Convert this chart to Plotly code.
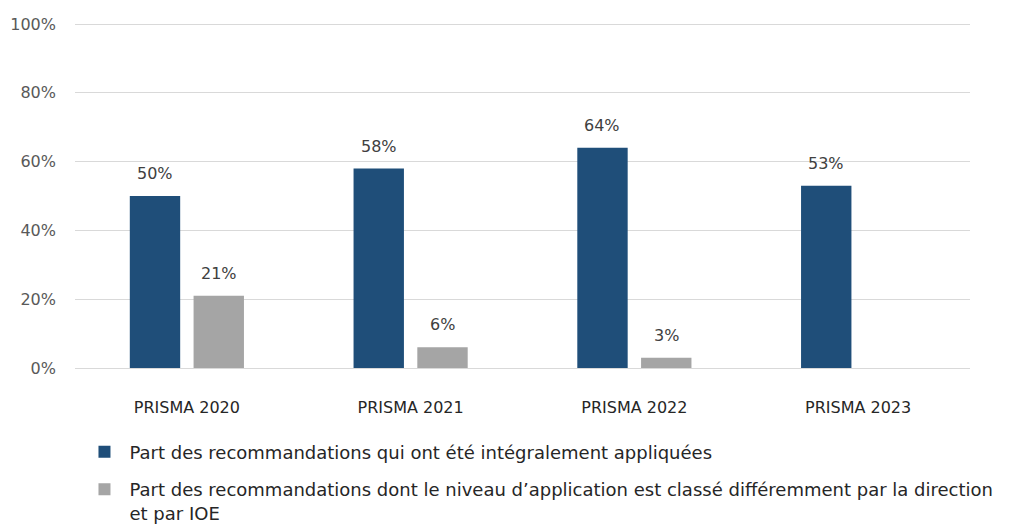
import plotly.graph_objects as go

categories = ["PRISMA 2020", "PRISMA 2021", "PRISMA 2022", "PRISMA 2023"]
series1_name = "Part des recommandations qui ont été intégralement appliquées"
series1_values = [50, 58, 64, 53]
series2_name = "Part des recommandations dont le niveau d’application est classé différemment par la direction<br>et par IOE"
series2_values = [21, 6, 3, None]
y_ticks = [0, 20, 40, 60, 80, 100]
y_tick_labels = ["0%", "20%", "40%", "60%", "80%", "100%"]

FONT = "DejaVu Sans"
BAR_GAP = 0.43
GROUP_GAP = 0.21
L, R, T, B = 67, 49, 15, 167
W, H = 1011, 527

fig = go.Figure()
fig.add_trace(go.Bar(x=categories, y=series1_values, name=series1_name,
                     legendgroup="g1",
                     marker=dict(color="#1f4e79", line=dict(width=0))))
fig.add_trace(go.Bar(x=categories, y=series2_values, name=series2_name,
                     legendgroup="g2",
                     marker=dict(color="#a5a5a5", line=dict(width=0))))

# data labels above each bar (offset to the bar's slot within its group)
plot_w = W - L - R
slot = plot_w / len(categories) * (1 - BAR_GAP) / 2
for k, vals in enumerate([series1_values, series2_values]):
    shift = (k - 0.5) * slot
    for cat, v in zip(categories, vals):
        if v is None:
            continue
        fig.add_annotation(x=cat, y=v, xref="x", yref="y", text=f"{v}%",
                           showarrow=False, xshift=shift, yshift=11,
                           yanchor="bottom",
                           font=dict(family=FONT, size=16, color="#404040"))

fig.update_layout(
    width=W, height=H,
    margin=dict(l=L, r=R, t=T, b=B, autoexpand=False),
    paper_bgcolor="white", plot_bgcolor="white",
    barmode="group", bargap=BAR_GAP, bargroupgap=GROUP_GAP,
    font=dict(family=FONT, size=16, color="#404040"),
    showlegend=True,
    legend=dict(
        orientation="v", x=0.005, xanchor="left", y=-0.19, yanchor="top",
        font=dict(family=FONT, size=18, color="#262626"),
        tracegroupgap=11, itemwidth=40, valign="top",
        bgcolor="rgba(0,0,0,0)",
    ),
    xaxis=dict(
        showgrid=False, showline=False, ticks="", automargin=False,
        tickfont=dict(family=FONT, size=16, color="#262626"),
        ticklabelstandoff=28,
    ),
    yaxis=dict(
        range=[0, 100.3], tickvals=y_ticks, ticktext=y_tick_labels,
        showgrid=True, gridcolor="#d9d9d9", gridwidth=1,
        zeroline=True, zerolinecolor="#d9d9d9", zerolinewidth=1,
        showline=False, ticks="", automargin=False,
        tickfont=dict(family=FONT, size=16, color="#595959"),
        ticklabelstandoff=18,
    ),
)

fig.write_html("out.html")
